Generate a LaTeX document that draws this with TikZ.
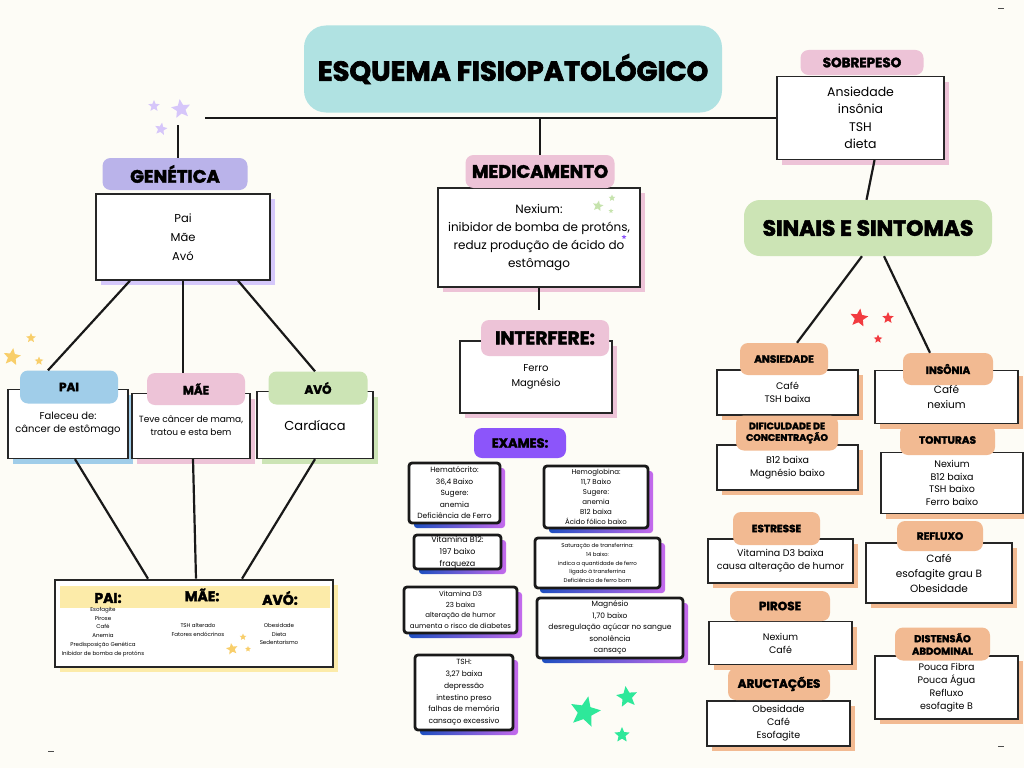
\documentclass[tikz,border=0pt]{standalone}
\usepackage{fontspec}
\setmainfont{Poppins}
\newfontfamily\headfont{Poppins}[BoldFeatures={FakeBold=2.5}]
\usetikzlibrary{shapes.geometric,shadows}

\definecolor{paper}{HTML}{FDFCF6}
\definecolor{tealc}{HTML}{B0E2E2}
\definecolor{lilac}{HTML}{BAB3EA}
\definecolor{lilacsh}{HTML}{D5C8FA}
\definecolor{bluec}{HTML}{A0CDE9}
\definecolor{pinkc}{HTML}{EDC3D7}
\definecolor{greenc}{HTML}{CCE4B5}
\definecolor{yellowc}{HTML}{FCEBA9}
\definecolor{peach}{HTML}{F2BA92}
\definecolor{violetc}{HTML}{8C55FA}
\definecolor{examblue}{HTML}{1E4FC0}
\definecolor{examviolet}{HTML}{C46AEC}
\definecolor{starlilac}{HTML}{D6C6FA}
\definecolor{staryellow}{HTML}{F8CE6A}
\definecolor{starred}{HTML}{F23B40}
\definecolor{stargreen}{HTML}{2EE89A}
\definecolor{starlime}{HTML}{C6E3AD}

\tikzset{
  tag/.style={fill=#1, rounded corners=8pt, inner sep=0pt, align=center,
    font=\headfont\bfseries\fontsize{10.5}{11}\selectfont},
  card/.style={draw=black!85, line width=1.3pt, fill=white, inner sep=0pt, align=center,
    font=\fontsize{9.5}{13}\selectfont,
    general shadow={fill=#1, shadow xshift=5pt, shadow yshift=-5pt}},
  exam/.style={draw=black!90, line width=2.8pt, rounded corners=3pt, fill=white,
    inner sep=0pt, align=center,
    general shadow={left color=examblue, right color=examviolet, shadow xshift=5pt, shadow yshift=-5pt}},
  link/.style={line width=2.2pt, black!90},
  deco/.style={star, star points=5, star point ratio=2.2, fill=#1, inner sep=0pt, draw=none},
}

\begin{document}
\begin{tikzpicture}[x=1pt, y=-1pt]

    \useasboundingbox (0,0) rectangle (1024,768);
    \fill[paper] (0,0) rectangle (1024,768);

    % title and main bar
    \node[tag=tealc, rounded corners=22pt, minimum width=418, minimum height=87,
      font=\headfont\bfseries\fontsize{27.5}{30}\selectfont] (title) at (513,69) {ESQUEMA FISIOPATOLÓGICO};
    \coordinate (hl) at (205,118);
    \coordinate (gtop) at (178,125);

    % genetica
    \node[card=lilacsh, minimum width=174, minimum height=86, font=\fontsize{11.5}{19}\selectfont] (genbox) at (183,237) {Pai\\Mãe\\Avó};
    \node[tag=lilac, minimum width=145, minimum height=32, font=\headfont\bfseries\fontsize{18}{19}\selectfont] (gentag) at (175,174) {GENÉTICA};

    \node[card=bluec, minimum width=120, minimum height=69, font=\fontsize{10}{13}\selectfont] (paibox) at (68,424) {Faleceu de:\\câncer de estômago};
    \node[card=pinkc, minimum width=118, minimum height=65, font=\fontsize{9}{13}\selectfont] (maebox) at (191,426) {Teve câncer de mama,\\tratou e esta bem};
    \node[card=greenc, minimum width=116, minimum height=67, font=\fontsize{13}{14}\selectfont] (avobox) at (315,425) {Cardíaca};
    \node[tag=bluec, minimum width=98, minimum height=33, font=\headfont\bfseries\fontsize{12}{13}\selectfont] (paitag) at (69,387) {PAI};
    \node[tag=pinkc, minimum width=98, minimum height=32, font=\headfont\bfseries\fontsize{12}{13}\selectfont] (maetag) at (196,389) {MÃE};
    \node[tag=greenc, minimum width=99, minimum height=33, font=\headfont\bfseries\fontsize{12}{13}\selectfont] (avotag) at (318,388) {AVÓ};

    \node[card=yellowc, line width=2.6pt, minimum width=278, minimum height=87] (famsum) at (194,623.5) {};
    \node[fill=yellowc, minimum width=270, minimum height=22, inner sep=0pt] (famband) at (195,597) {};
    \node[font=\headfont\bfseries\fontsize{14}{15}\selectfont] (hpai) at (108,598) {PAI:};
    \node[font=\headfont\bfseries\fontsize{14}{15}\selectfont] (hmae) at (202,595) {MÃE:};
    \node[font=\headfont\bfseries\fontsize{14}{15}\selectfont] (havo) at (280,598) {AVÓ:};
    \node[align=center, font=\fontsize{5.5}{8.8}\selectfont] (lpai) at (103,632) {Esofagite\\Pirose\\Café\\Anemia\\Predisposição Genética\\Inibidor de bomba de protóns};
    \node[align=center, font=\fontsize{5.5}{8.8}\selectfont] (lmae) at (198,630) {TSH alterado\\Fatores endócrinos};
    \node[align=center, font=\fontsize{5.5}{8.8}\selectfont] (lavo) at (279,634) {Obesidade\\Dieta\\Sedentarismo};

    \draw[link] (gtop) -- (gtop |- gentag.north);
    \draw[link] ([xshift=-53]genbox.south) -- ([xshift=-21]paitag.north);
    \draw[link] (genbox.south) -- (genbox.south |- maetag.north);
    \draw[link] ([xshift=55]genbox.south) -- ([xshift=-3]avotag.north);
    \draw[link] ([xshift=7]paibox.south) -- ([xshift=-46]famsum.north);
    \draw[link] ([xshift=2]maebox.south) -- ([xshift=2]famsum.north);
    \draw[link] (avobox.south) -- ([xshift=48]famsum.north);

    % medicamento
    \node[card=pinkc, minimum width=202, minimum height=99, font=\fontsize{12}{18}\selectfont] (medbox) at (539,237.5)
      {Nexium:\\inibidor de bomba de protóns,\\reduz produção de ácido do\\estômago};
    \node[tag=pinkc, minimum width=149, minimum height=33, font=\headfont\bfseries\fontsize{18}{19}\selectfont] (medtag) at (540,171.5) {MEDICAMENTO};
    \node[card=pinkc, minimum width=152, minimum height=72, font=\fontsize{10}{15}\selectfont] (intbox) at (536,377) {Ferro\\Magnésio};
    \node[tag=pinkc, minimum width=128, minimum height=36, font=\headfont\bfseries\fontsize{18.5}{19}\selectfont] (inttag) at (545,338) {INTERFERE:};
    \draw[link] (medtag.north) -- (medtag.north |- hl);
    \draw[link, shorten >=10pt] (medbox.south) -- (medbox.south |- inttag.north);

    % exames
    \node[tag=violetc, minimum width=92, minimum height=30, font=\headfont\bfseries\fontsize{13}{14}\selectfont] (examtag) at (520,443) {EXAMES:};
    \node[exam, minimum width=91, minimum height=60, font=\fontsize{7.5}{11.5}\selectfont] (hemat) at (454.5,493)
      {Hematócrito:\\36,4 Baixo\\Sugere:\\anemia\\Deficiência de Ferro};
    \node[exam, minimum width=104, minimum height=62, font=\fontsize{7}{10}\selectfont] (hemog) at (596,497)
      {Hemoglobina:\\11,7 Baixo\\Sugere:\\anemia\\B12 baixa\\Ácido fólico baixo};
    \node[exam, minimum width=87, minimum height=34, font=\fontsize{8}{12}\selectfont] (vitb) at (457.5,552)
      {Vitamina B12:\\197 baixo\\fraqueza};
    \node[exam, minimum width=125, minimum height=50, font=\fontsize{5.5}{8.8}\selectfont] (satur) at (597.5,563)
      {Saturação de transferrina:\\14 baixo:\\indica a quantidade de ferro\\ligado à transferrina\\Deficiência de ferro bom};
    \node[exam, minimum width=113, minimum height=46, font=\fontsize{7}{10.5}\selectfont] (vitd) at (460.5,610)
      {Vitamina D3\\23 baixa\\alteração de humor\\aumenta o risco de diabetes};
    \node[exam, minimum width=146, minimum height=60, font=\fontsize{7.5}{11.5}\selectfont] (magn) at (610,628)
      {Magnésio\\1,70 baixo\\desregulação açúcar no sangue\\sonolência\\cansaço};
    \node[exam, minimum width=98, minimum height=75, font=\fontsize{7.5}{11.8}\selectfont] (tshx) at (464,692.5)
      {TSH:\\3,27 baixa\\depressão\\intestino preso\\falhas de memória\\cansaço excessivo};

    % sobrepeso e sintomas
    \node[card=pinkc, minimum width=167, minimum height=83, font=\fontsize{12.5}{17.5}\selectfont] (sobbox) at (860.5,118)
      {Ansiedade\\insônia\\TSH\\dieta};
    \node[tag=pinkc, minimum width=123, minimum height=25, font=\headfont\bfseries\fontsize{13.5}{14}\selectfont] (sobtag) at (862,62.5) {SOBREPESO};
    \node[tag=greenc, rounded corners=16pt, minimum width=248, minimum height=56, font=\headfont\bfseries\fontsize{22}{23}\selectfont] (sintag) at (868,228) {SINAIS E SINTOMAS};
    \draw[link] (hl) -- (sobbox.west);
    \draw[link] ([xshift=14]sobbox.south) -- ([xshift=6]sobbox.south |- sintag.north);

    \node[card=peach, minimum width=141, minimum height=45] (ansbox) at (787.5,392.5) {Café\\TSH baixa};
    \node[card=peach, minimum width=143, minimum height=53, font=\fontsize{10.5}{15}\selectfont] (insbox) at (946.5,397) {Café\\nexium};
    \node[card=peach, minimum width=141, minimum height=45] (difbox) at (787.5,467.5) {B12 baixa\\Magnésio baixo};
    \node[card=peach, minimum width=142, minimum height=61, font=\fontsize{9.5}{12.5}\selectfont] (tonbox) at (952,483) {Nexium\\B12 baixa\\TSH baixo\\Ferro baixo};
    \node[card=peach, minimum width=145, minimum height=44] (estbox) at (780.5,561) {Vitamina D3 baixa\\causa alteração de humor};
    \node[card=peach, minimum width=146, minimum height=60, font=\fontsize{10.5}{15}\selectfont] (refbox) at (939,573) {Café\\esofagite grau B\\Obesidade};
    \node[card=peach, minimum width=143, minimum height=43] (pirbox) at (780.5,643) {Nexium\\Café};
    \node[card=peach, minimum width=143, minimum height=63] (disbox) at (946.5,687.5) {Pouca Fibra\\Pouca Água\\Refluxo\\esofagite B};
    \node[card=peach, minimum width=143, minimum height=45] (arubox) at (778.5,723.5) {Obesidade\\Café\\Esofagite};

    \node[tag=peach, minimum width=88, minimum height=32] (anstag) at (784,359) {ANSIEDADE};
    \node[tag=peach, minimum width=90, minimum height=32] (instag) at (948,369) {INSÔNIA};
    \node[tag=peach, minimum width=102, minimum height=35, font=\headfont\bfseries\fontsize{9.5}{11.5}\selectfont] (diftag) at (787,433) {DIFICULDADE DE\\CONCENTRAÇÃO};
    \node[tag=peach, minimum width=95, minimum height=30] (tontag) at (947.5,440) {TONTURAS};
    \node[tag=peach, minimum width=87, minimum height=33] (esttag) at (776.5,528.5) {ESTRESSE};
    \node[tag=peach, minimum width=86, minimum height=30] (reftag) at (940,536) {REFLUXO};
    \node[tag=peach, minimum width=100, minimum height=30, font=\headfont\bfseries\fontsize{12}{13}\selectfont] (pirtag) at (780,606) {PIROSE};
    \node[tag=peach, minimum width=95, minimum height=33, font=\headfont\bfseries\fontsize{10}{12.5}\selectfont] (distag) at (942.5,644) {DISTENSÃO\\ABDOMINAL};
    \node[tag=peach, minimum width=102, minimum height=32, font=\headfont\bfseries\fontsize{12}{13}\selectfont] (arutag) at (779,684) {ARUCTAÇÕES};

    \draw[link] ([xshift=-6]sintag.south) -- ([xshift=13]anstag.north);
    \draw[link] ([xshift=16]sintag.south) -- ([xshift=-18]instag.north);

    % stars
    \node[deco=starlilac, minimum size=20, rotate=8] (s1) at (181,109) {};
    \node[deco=starlilac, minimum size=12] (s2) at (154,106) {};
    \node[deco=starlilac, minimum size=13, rotate=-10] (s3) at (161,129) {};
    \node[deco=staryellow, minimum size=18, rotate=-8] (s4) at (12,357) {};
    \node[deco=staryellow, minimum size=10] (s5) at (31,338) {};
    \node[deco=staryellow, minimum size=9] (s6) at (39,361) {};
    \node[deco=staryellow, minimum size=12, rotate=10] (s7) at (232,649) {};
    \node[deco=staryellow, minimum size=7] (s8) at (243,637) {};
    \node[deco=staryellow, minimum size=6] (s9) at (248,649) {};
    \node[deco=starlime, minimum size=11, rotate=-10] (s10) at (598,206) {};
    \node[deco=starlime, minimum size=7] (s11) at (612,198) {};
    \node[deco=starlime, minimum size=5] (s12) at (611,211) {};
    \node[deco=violetc, minimum size=5] (s13) at (624,237) {};
    \node[deco=starred, minimum size=19, rotate=-8] (s14) at (859,318) {};
    \node[deco=starred, minimum size=12] (s15) at (888,318) {};
    \node[deco=starred, minimum size=9] (s16) at (878,339) {};
    \node[deco=stargreen, minimum size=32, rotate=-12] (s17) at (585,712) {};
    \node[deco=stargreen, minimum size=22, rotate=8] (s18) at (627,697) {};
    \node[deco=stargreen, minimum size=16] (s19) at (622,735) {};

    % corner marks
    \draw[black!70, line width=0.6pt] (998,8) -- (1004,8);
    \draw[black!70, line width=0.6pt] (48,751) -- (54,751);
    \draw[black!70, line width=0.6pt] (998,746) -- (1004,746);

\end{tikzpicture}
\end{document}
